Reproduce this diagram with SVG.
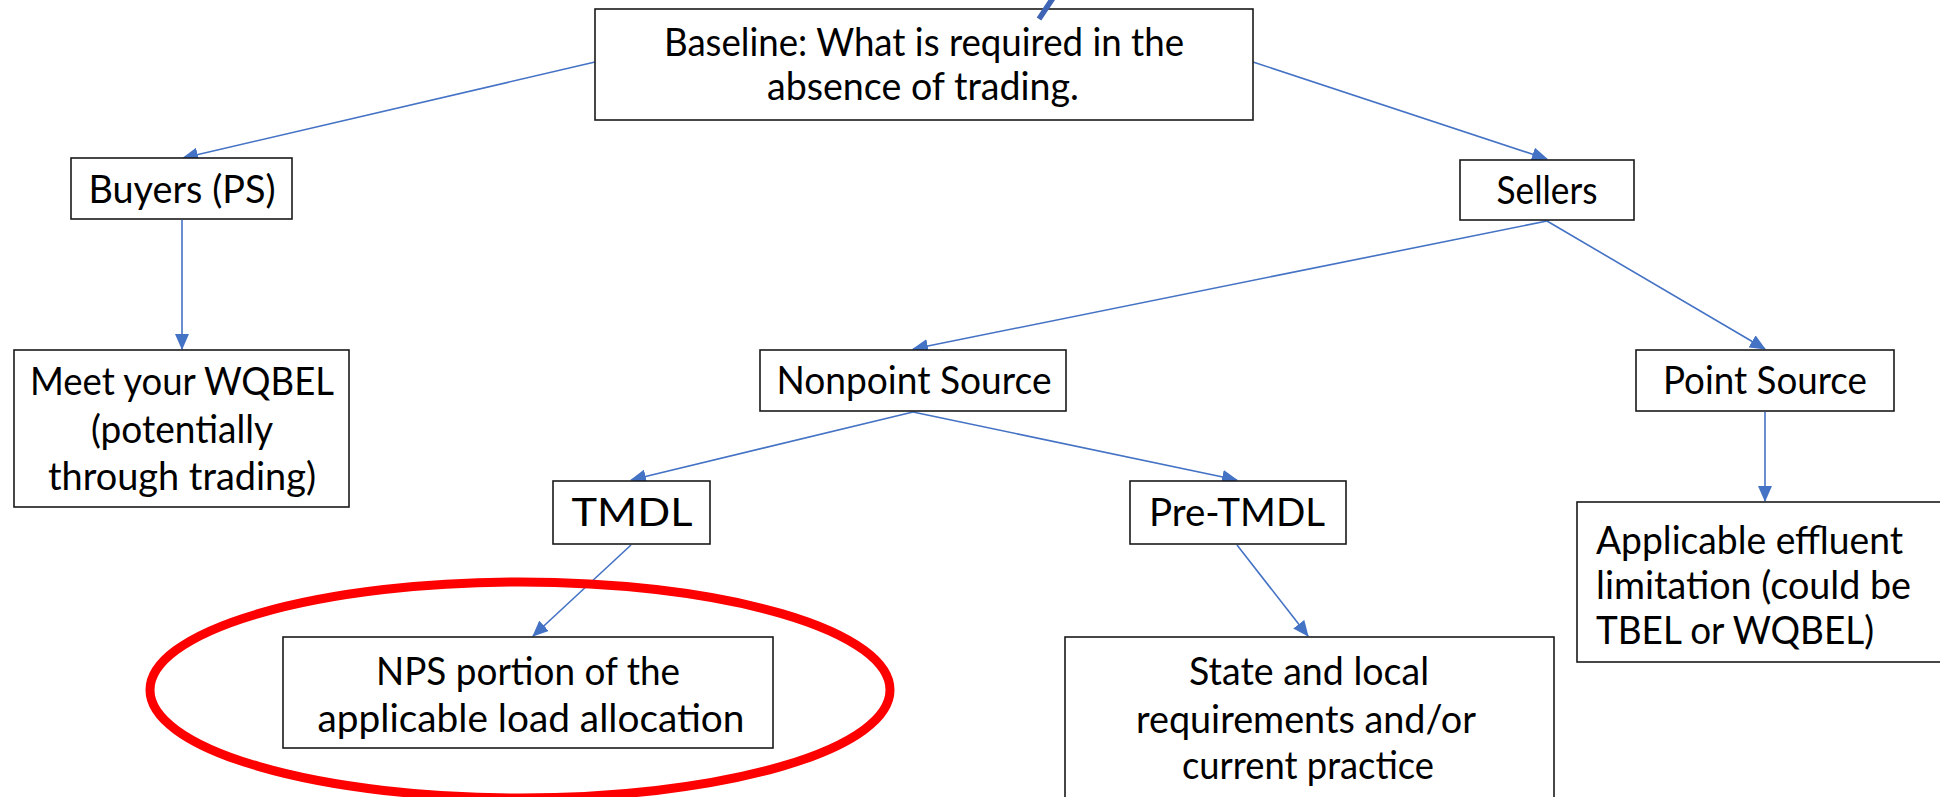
<svg xmlns="http://www.w3.org/2000/svg" width="1940" height="797" viewBox="0 0 1940 797">
<defs>
<style>
.box{fill:#fff;stroke:#1a1a1a;stroke-width:1.6}
.t{font-family:Lato,"Liberation Sans",sans-serif;font-size:38px;fill:#000}
.c{text-anchor:middle}
.edge{stroke:#4472C4;stroke-width:1.6;fill:none;marker-end:url(#ah)}
</style>
<marker id="ah" markerUnits="userSpaceOnUse" markerWidth="16" markerHeight="14" refX="15" refY="7" orient="auto">
<path d="M0,0 L16,7 L0,14 Z" fill="#4472C4"/>
</marker>
</defs>
<rect width="1940" height="797" fill="#fff"/>
<g id="connectors">
<line class="edge" x1="595" y1="62" x2="183" y2="158"/>
<line class="edge" x1="1253" y1="62" x2="1547" y2="159"/>
<line class="edge" x1="182" y1="220" x2="182" y2="349"/>
<line class="edge" x1="1547" y1="221" x2="913" y2="349"/>
<line class="edge" x1="1547" y1="221" x2="1765" y2="349"/>
<line class="edge" x1="913" y1="412" x2="631" y2="480"/>
<line class="edge" x1="913" y1="412" x2="1237" y2="480"/>
<line class="edge" x1="631" y1="545" x2="533" y2="636"/>
<line class="edge" x1="1237" y1="545" x2="1308" y2="636"/>
<line class="edge" x1="1765" y1="412" x2="1765" y2="501"/>
</g>
<g id="baseline">
<rect class="box" x="595" y="9" width="658" height="111"/>
<line x1="1053" y1="-2" x2="1039" y2="19" stroke="#3F64B4" stroke-width="5.5"/>
<text class="t c" x="924" y="56" textLength="520" lengthAdjust="spacingAndGlyphs">Baseline: What is required in the</text>
<text class="t c" x="923" y="100" textLength="312" lengthAdjust="spacingAndGlyphs">absence of trading.</text>
</g>
<g id="buyers">
<rect class="box" x="71" y="158" width="221" height="61"/>
<text class="t c" x="182" y="203" textLength="187" lengthAdjust="spacingAndGlyphs">Buyers (PS)</text>
</g>
<g id="sellers">
<rect class="box" x="1460" y="160" width="174" height="60"/>
<text class="t c" x="1547" y="204" textLength="101" lengthAdjust="spacingAndGlyphs">Sellers</text>
</g>
<g id="meet">
<rect class="box" x="14" y="350" width="335" height="157"/>
<text class="t c" x="182" y="395" textLength="304" lengthAdjust="spacingAndGlyphs">Meet your WQBEL</text>
<text class="t c" x="182" y="443" textLength="182" lengthAdjust="spacingAndGlyphs">(potentially</text>
<text class="t c" x="182" y="490" textLength="268" lengthAdjust="spacingAndGlyphs">through trading)</text>
</g>
<g id="nonpoint">
<rect class="box" x="760" y="350" width="306" height="61"/>
<text class="t c" x="914" y="394" textLength="275" lengthAdjust="spacingAndGlyphs">Nonpoint Source</text>
</g>
<g id="point">
<rect class="box" x="1636" y="350" width="258" height="61"/>
<text class="t c" x="1765" y="394" textLength="204" lengthAdjust="spacingAndGlyphs">Point Source</text>
</g>
<g id="tmdl">
<rect class="box" x="553" y="481" width="157" height="63"/>
<text class="t c" x="632" y="526" textLength="121" lengthAdjust="spacingAndGlyphs">TMDL</text>
</g>
<g id="pretmdl">
<rect class="box" x="1130" y="481" width="216" height="63"/>
<text class="t c" x="1237" y="526" textLength="176" lengthAdjust="spacingAndGlyphs">Pre-TMDL</text>
</g>
<g id="nps">
<rect class="box" x="283" y="637" width="490" height="111"/>
<text class="t c" x="528" y="685" textLength="304" lengthAdjust="spacingAndGlyphs">NPS portion of the</text>
<text class="t c" x="531" y="732" textLength="427" lengthAdjust="spacingAndGlyphs">applicable load allocation</text>
</g>
<g id="state">
<rect class="box" x="1065" y="637" width="489" height="180"/>
<text class="t c" x="1309" y="685" textLength="240" lengthAdjust="spacingAndGlyphs">State and local</text>
<text class="t c" x="1306" y="733" textLength="340" lengthAdjust="spacingAndGlyphs">requirements and/or</text>
<text class="t c" x="1308" y="779" textLength="252" lengthAdjust="spacingAndGlyphs">current practice</text>
</g>
<g id="applicable">
<rect class="box" x="1577" y="502" width="380" height="160"/>
<text class="t" x="1596" y="554" textLength="307" lengthAdjust="spacingAndGlyphs">Applicable effluent</text>
<text class="t" x="1596" y="599" textLength="315" lengthAdjust="spacingAndGlyphs">limitation (could be</text>
<text class="t" x="1596" y="644" textLength="278" lengthAdjust="spacingAndGlyphs">TBEL or WQBEL)</text>
</g>
<g id="highlight">
<ellipse cx="520" cy="690" rx="370" ry="108" fill="none" stroke="#FF0000" stroke-width="9"/>
</g>
</svg>
